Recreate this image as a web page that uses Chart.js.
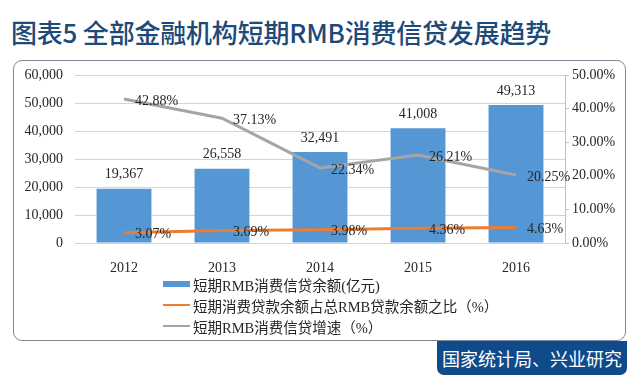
<!DOCTYPE html>
<html>
<head>
<meta charset="utf-8">
<script src="https://cdn.jsdelivr.net/npm/chart.js@4/dist/chart.umd.min.js"></script>
<style>
  html, body { margin: 0; padding: 0; background: #fff; }
  #page { position: relative; width: 640px; height: 377px; overflow: hidden; }
  #title {
    position: absolute; left: 11px; top: 13px;
    font: 500 26px "Noto Sans CJK SC", sans-serif; color: #1d4a78;
    white-space: nowrap; letter-spacing: -0.2px;
  }
  #frame {
    position: absolute; left: 13px; top: 60px; width: 611px; height: 279px;
    border: 1.5px solid #7d8a96; border-radius: 9px;
  }
  #source {
    position: absolute; left: 437px; top: 341px; width: 190px; height: 34px;
    background: #0f4b8b; border-radius: 0 0 7px 7px;
    color: #fff; font: 18px "Noto Sans CJK SC", sans-serif;
    line-height: 34px; text-align: center;
  }
  #chart { position: absolute; left: 0; top: 0; }
  .lg { position: absolute; left: 163px; height: 20px; width: 420px; }
  .lg .mk { position: absolute; left: 0; width: 27px; }
  .lg .tx {
    position: absolute; left: 30px; top: 0; line-height: 20px; white-space: nowrap;
    font: 14.5px "Liberation Serif", "Noto Sans CJK SC", serif; color: #262626;
  }
</style>
</head>
<body>
<div id="page">
  <div id="title">图表5  全部金融机构短期RMB消费信贷发展趋势</div>
  <div id="frame"></div>
  <canvas id="chart" width="640" height="377"></canvas>
  <div id="legend"></div>
  <div id="source">国家统计局、兴业研究</div>
</div>
<script>
const years = ['2012', '2013', '2014', '2015', '2016'];
const balance = [19367, 26558, 32491, 41008, 49313];        // 亿元
const shareOfLoans = [3.07, 3.69, 3.98, 4.36, 4.63];         // %
const growthRate = [42.88, 37.13, 22.34, 26.21, 20.25];      // %

const seriesNames = [
  '短期RMB消费信贷余额(亿元)',
  '短期消费贷款余额占总RMB贷款余额之比（%）',
  '短期RMB消费信贷增速（%）'
];

const BLUE = '#5596d4';
const ORANGE = '#ed7d31';
const GREY = '#a5a5a5';
const TEXT = '#262626';
const NUM_FONT = '14px "Liberation Serif", serif';

const labelPlugin = {
  id: 'valueLabels',
  afterDatasetsDraw(chart) {
    const ctx = chart.ctx;
    ctx.save();
    ctx.font = NUM_FONT;
    ctx.fillStyle = TEXT;
    chart.data.datasets.forEach((ds, i) => {
      const meta = chart.getDatasetMeta(i);
      meta.data.forEach((el, j) => {
        const v = ds.data[j];
        if (ds.type === 'bar') {
          ctx.textAlign = 'center';
          ctx.textBaseline = 'middle';
          ctx.fillText(v.toLocaleString('en-US'), el.x, el.y - 14);
        } else {
          ctx.textAlign = 'left';
          ctx.textBaseline = 'middle';
          ctx.fillText(v.toFixed(2) + '%', el.x + 11, el.y + 2);
        }
      });
    });
    ctx.restore();
  }
};

new Chart(document.getElementById('chart').getContext('2d'), {
  data: {
    labels: years,
    datasets: [
      {
        type: 'bar',
        label: seriesNames[0],
        data: balance,
        backgroundColor: BLUE,
        barPercentage: 0.56,
        categoryPercentage: 1,
        yAxisID: 'y',
        order: 3
      },
      {
        type: 'line',
        label: seriesNames[1],
        data: shareOfLoans,
        borderColor: ORANGE,
        borderWidth: 3,
        pointRadius: 0,
        yAxisID: 'y1',
        order: 1
      },
      {
        type: 'line',
        label: seriesNames[2],
        data: growthRate,
        borderColor: GREY,
        borderWidth: 3,
        pointRadius: 0,
        yAxisID: 'y1',
        order: 2
      }
    ]
  },
  options: {
    responsive: false,
    animation: false,
    layout: { padding: { left: 0, right: 0, top: 75, bottom: 104 } },
    plugins: {
      legend: { display: false },
      tooltip: { enabled: false }
    },
    scales: {
      x: {
        grid: { display: false },
        border: { display: false },
        ticks: { font: { family: 'Liberation Serif', size: 14 }, color: TEXT, padding: 9 },
        afterFit: s => { s.height = 30; }
      },
      y: {
        position: 'left',
        min: 0,
        max: 60000,
        ticks: {
          stepSize: 10000,
          padding: 12,
          font: { family: 'Liberation Serif', size: 14 },
          color: TEXT,
          callback: v => v.toLocaleString('en-US')
        },
        grid: { color: '#d4d4d4', drawTicks: false, lineWidth: 1 },
        border: { display: false },
        afterFit: s => { s.width = 75; }
      },
      y1: {
        position: 'right',
        min: 0,
        max: 50,
        ticks: {
          stepSize: 10,
          padding: 3,
          font: { family: 'Liberation Serif', size: 14 },
          color: TEXT,
          callback: v => v.toFixed(2) + '%'
        },
        grid: { drawOnChartArea: false, tickLength: 4, color: '#bfbfbf' },
        border: { display: true, color: '#bfbfbf' },
        afterFit: s => { s.width = 75; }
      }
    }
  },
  plugins: [labelPlugin]
});

// legend, one entry per row
const legendRows = [284, 305, 326];
const legendEl = document.getElementById('legend');
[BLUE, ORANGE, GREY].forEach((c, i) => {
  const row = document.createElement('div');
  row.className = 'lg';
  row.style.top = (legendRows[i] - 10) + 'px';
  const mk = document.createElement('div');
  mk.className = 'mk';
  mk.style.background = c;
  mk.style.height = i === 0 ? '6px' : '2px';
  mk.style.top = i === 0 ? '7px' : '9px';
  const tx = document.createElement('div');
  tx.className = 'tx';
  tx.textContent = seriesNames[i];
  row.appendChild(mk);
  row.appendChild(tx);
  legendEl.appendChild(row);
});
</script>
</body>
</html>
